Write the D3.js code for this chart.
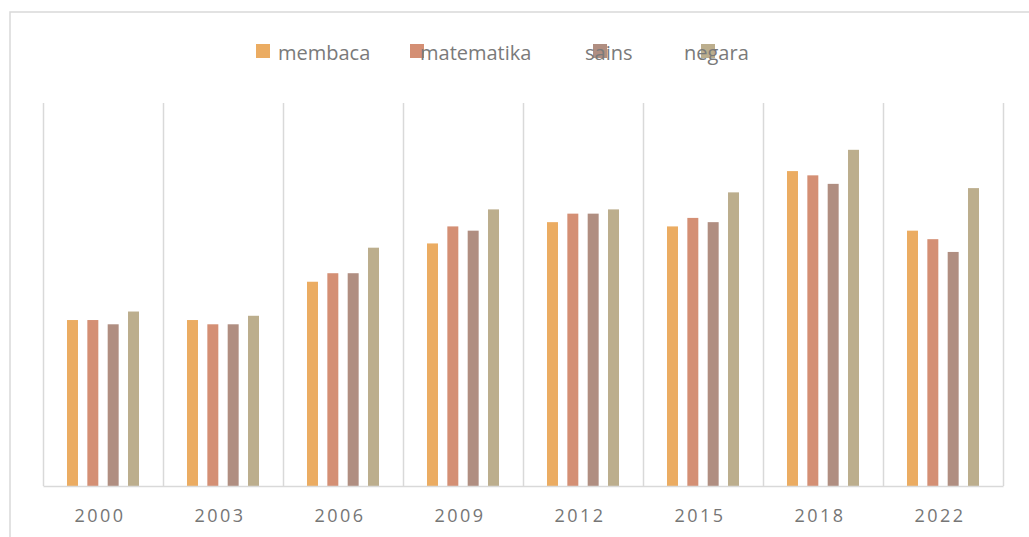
<!DOCTYPE html>
<html>
<head>
<meta charset="utf-8">
<script src="https://cdn.jsdelivr.net/npm/d3@7"></script>
<style>
  body { margin: 0; background: #fff; }
  svg { display: block; font-family: "Open Sans", sans-serif; }
</style>
</head>
<body>
<svg class="chart" width="1029" height="537"></svg>
<script>
const width = 1029;
const height = 537;

// data
const years = ["2000", "2003", "2006", "2009", "2012", "2015", "2018", "2022"];
const keys = ["membaca", "matematika", "sains", "negara"];
const membaca    = [39, 39, 48, 57, 62, 61, 74, 60];
const matematika = [39, 38, 50, 61, 64, 63, 73, 58];
const sains      = [38, 38, 50, 60, 64, 62, 71, 55];
const negara     = [41, 40, 56, 65, 65, 69, 79, 70];

const colors = ["#ebac62", "#d48f74", "#b08e81", "#bcae8d"];

const seriesValues = [membaca, matematika, sains, negara];
const data = years.map((y, i) => {
    const row = { year: y };
    keys.forEach((k, j) => row[k] = seriesValues[j][i]);
    return row;
});

const svg = d3.select(".chart");

const plotLeft = 43, plotRight = 1003, plotTop = 103, plotBottom = 486;

// outer frame of the chart area
svg.append("path")
    .attr("d", `M10,${height} V12 H${width}`)
    .attr("fill", "none")
    .attr("stroke", "#d9d9d9")
    .attr("stroke-width", 1.5);

const x0 = d3.scaleBand()
    .domain(years)
    .range([plotLeft, plotRight])
    .paddingInner(0.4)
    .paddingOuter(0.2);

const x1 = d3.scaleBand()
    .domain(keys)
    .range([0, x0.bandwidth()])
    .paddingInner(0.46)
    .paddingOuter(0);

const yScale = d3.scaleLinear()
    .domain([0, 90])
    .range([plotBottom, plotTop]);

const color = d3.scaleOrdinal().domain(keys).range(colors);

// vertical gridlines between categories
const xAxisScale = d3.scaleBand().domain(years).range([plotLeft, plotRight]);
const gridX = years.map((d) => xAxisScale(d)).concat([plotRight]);
svg.append("g")
    .selectAll("line")
    .data(gridX)
    .join("line")
    .attr("x1", (d) => Math.round(d) + 0.5)
    .attr("x2", (d) => Math.round(d) + 0.5)
    .attr("y1", plotTop)
    .attr("y2", plotBottom)
    .attr("stroke", "#d9d9d9")
    .attr("stroke-width", 1.5);

// bars
svg.append("g")
    .selectAll("g")
    .data(data)
    .join("g")
    .attr("transform", (d) => `translate(${x0(d.year)},0)`)
    .selectAll("rect")
    .data((d) => keys.map((k) => ({ key: k, value: d[k] })))
    .join("rect")
    .attr("x", (d) => x1(d.key))
    .attr("width", x1.bandwidth())
    .attr("y", (d) => yScale(d.value))
    .attr("height", (d) => yScale(0) - yScale(d.value))
    .attr("fill", (d) => color(d.key));

// x axis
const xAxis = svg.append("g")
    .attr("transform", `translate(0,${plotBottom})`)
    .call(d3.axisBottom(xAxisScale).tickSize(0).tickPadding(23));
xAxis.select(".domain")
    .attr("stroke", "#d9d9d9")
    .attr("stroke-width", 1.5);
xAxis.selectAll("text")
    .attr("font-size", 18)
    .attr("font-family", "Open Sans, sans-serif")
    .attr("fill", "#767676")
    .style("letter-spacing", "2.5px")
    .attr("dx", -3);

// legend (positions as laid out in the original)
const legendSquareX = [256, 410, 593, 701];
const legendTextX = [278, 420, 585, 684];
const legend = svg.append("g").attr("class", "legend");
legend.selectAll("rect")
    .data(keys)
    .join("rect")
    .attr("x", (d, i) => legendSquareX[i])
    .attr("y", 44)
    .attr("width", 14)
    .attr("height", 14)
    .attr("fill", (d) => color(d));
legend.selectAll("text")
    .data(keys)
    .join("text")
    .attr("x", (d, i) => legendTextX[i])
    .attr("y", 60)
    .attr("font-size", 20)
    .attr("fill", "#7a7a7a")
    .text((d) => d);
</script>
</body>
</html>
